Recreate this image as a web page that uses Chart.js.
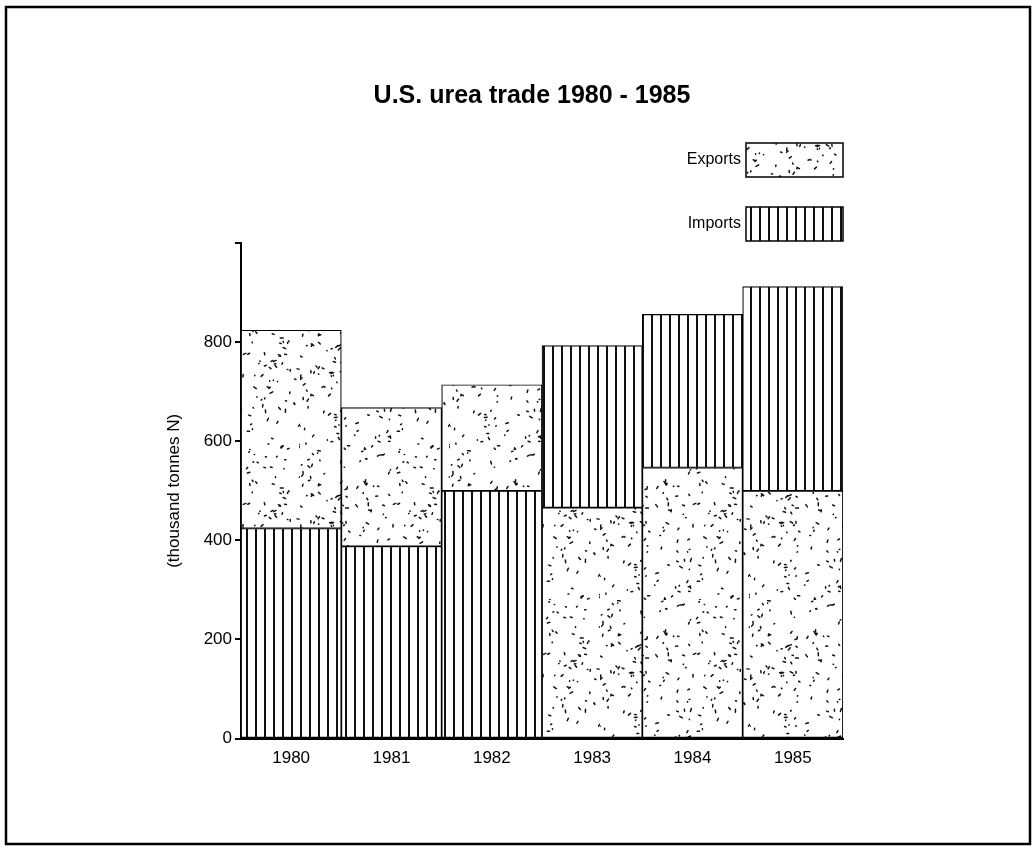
<!DOCTYPE html>
<html>
<head>
<meta charset="utf-8">
<script src="https://cdn.jsdelivr.net/npm/chart.js@4.4.0/dist/chart.umd.min.js"></script>
<style>
    html, body { margin: 0; padding: 0; background: #fff; }
    #wrap { width: 1034px; height: 847px; position: relative; }
</style>
</head>
<body>
<div id="wrap"><canvas id="ureaChart" width="1034" height="847"></canvas></div>
<script>
        // ==================== DATA ====================
        const years = ['1980', '1981', '1982', '1983', '1984', '1985'];
        const imports = [424, 388, 500, 327, 309, 412];
        const exportsData = [400, 280, 214, 466, 547, 500];
        // from 1983 the exports sit at the bottom of the bar
        const importsOnTop = [false, false, false, true, true, true];
        const yTicks = [0, 200, 400, 600, 800, 1000];

        const FONT = '"Liberation Sans", Arial, Helvetica, sans-serif';
        Chart.defaults.font.family = FONT;
        Chart.defaults.color = '#000';

        // ==================== PATTERNS ====================
        function makeStripes() {
            const c = document.createElement('canvas');
            c.width = 9; c.height = 9;
            const g = c.getContext('2d');
            g.fillStyle = '#fff';
            g.fillRect(0, 0, 9, 9);
            g.fillStyle = '#111';
            g.fillRect(3, 0, 2, 9);
            return g.createPattern(c, 'repeat');
        }

        function makeStipple() {
            const size = 150;
            const c = document.createElement('canvas');
            c.width = size; c.height = size;
            const g = c.getContext('2d');
            g.fillStyle = '#fff';
            g.fillRect(0, 0, size, size);
            g.strokeStyle = '#111';
            g.lineCap = 'round';
            g.lineWidth = 1.5;
            // fixed texture seed, only for the dot speckle
            let s = 987654;
            const next = () => { s = (s * 1103515245 + 12345) & 0x7fffffff; return s / 0x7fffffff; };
            for (let i = 0; i < 230; i++) {
                const x = next() * size, y = next() * size;
                const a = next() * Math.PI * 2, len = 0.3 + next() * 2.8;
                g.beginPath();
                g.moveTo(x, y);
                g.lineTo(x + Math.cos(a) * len, y + Math.sin(a) * len);
                g.stroke();
            }
            return g.createPattern(c, 'repeat');
        }

        const stripes = makeStripes();
        const stipple = makeStipple();

        // ==================== PLUGINS ====================
        const framePlugin = {
            id: 'frame',
            beforeDraw(chart) {
                const ctx = chart.ctx;
                ctx.save();
                ctx.fillStyle = '#fff';
                ctx.fillRect(0, 0, chart.width, chart.height);
                ctx.strokeStyle = '#000';
                ctx.lineWidth = 2.5;
                ctx.strokeRect(6, 7, 1024, 837);
                ctx.restore();
            }
        };

        const headerPlugin = {
            id: 'header',
            afterDraw(chart) {
                const ctx = chart.ctx;
                ctx.save();
                ctx.fillStyle = '#000';
                ctx.font = 'bold 25px ' + FONT;
                ctx.textAlign = 'center';
                ctx.textBaseline = 'middle';
                ctx.fillText('U.S. urea trade 1980 - 1985', 532, 96);

                // legend: label on the left, pattern box on the right
                // sx/sy move the texture so the small box gets a dense patch
                const items = [
                    { label: 'Exports', fill: stipple, top: 143, sx: 636, sy: 73 },
                    { label: 'Imports', fill: stripes, top: 207, sx: 0, sy: 0 }
                ];
                ctx.font = '16px ' + FONT;
                ctx.textAlign = 'right';
                items.forEach(it => {
                    ctx.save();
                    ctx.translate(it.sx, it.sy);
                    ctx.fillStyle = it.fill;
                    ctx.fillRect(746 - it.sx, it.top - it.sy, 97, 34);
                    ctx.restore();
                    ctx.strokeStyle = '#000';
                    ctx.lineWidth = 1.5;
                    ctx.strokeRect(746, it.top, 97, 34);
                    ctx.fillStyle = '#000';
                    ctx.fillText(it.label, 741, it.top + 17);
                });
                ctx.restore();
            }
        };

        // ==================== CHART ====================
        new Chart(document.getElementById('ureaChart'), {
            type: 'bar',
            data: {
                labels: years,
                datasets: [
                    {
                        label: 'Imports',
                        data: imports.map((v, i) => importsOnTop[i] ? null : v),
                        backgroundColor: stripes
                    },
                    {
                        label: 'Exports',
                        data: exportsData,
                        backgroundColor: stipple
                    },
                    {
                        label: 'Imports',
                        data: imports.map((v, i) => importsOnTop[i] ? v : null),
                        backgroundColor: stripes
                    }
                ].map(ds => ({
                    ...ds,
                    borderColor: '#000',
                    borderWidth: 1.2,
                    borderSkipped: false,
                    categoryPercentage: 1,
                    barPercentage: 1
                }))
            },
            options: {
                responsive: false,
                animation: false,
                layout: { padding: { left: 160, right: 191, top: 243, bottom: 68 } },
                plugins: {
                    legend: { display: false },
                    title: { display: false },
                    tooltip: { enabled: false }
                },
                scales: {
                    x: {
                        stacked: true,
                        grid: { display: false, drawTicks: false },
                        border: { display: true, color: '#000', width: 2 },
                        ticks: { font: { size: 17 }, color: '#000', padding: 10 }
                    },
                    y: {
                        stacked: true,
                        min: yTicks[0],
                        max: yTicks[yTicks.length - 1],
                        afterFit(scale) { scale.width = 81; },
                        afterBuildTicks(scale) { scale.ticks = yTicks.map(v => ({ value: v })); },
                        ticks: {
                            font: { size: 17 },
                            color: '#000',
                            padding: 3,
                            callback: v => v === 1000 ? '' : v
                        },
                        grid: {
                            drawOnChartArea: false,
                            drawTicks: true,
                            tickLength: 6,
                            color: '#000',
                            lineWidth: 2
                        },
                        border: { display: true, color: '#000', width: 2 },
                        title: {
                            display: true,
                            text: '(thousand tonnes N)',
                            font: { size: 17 },
                            color: '#000',
                            padding: { top: 4, bottom: 4 }
                        }
                    }
                }
            },
            plugins: [framePlugin, headerPlugin]
        });
</script>
</body>
</html>
